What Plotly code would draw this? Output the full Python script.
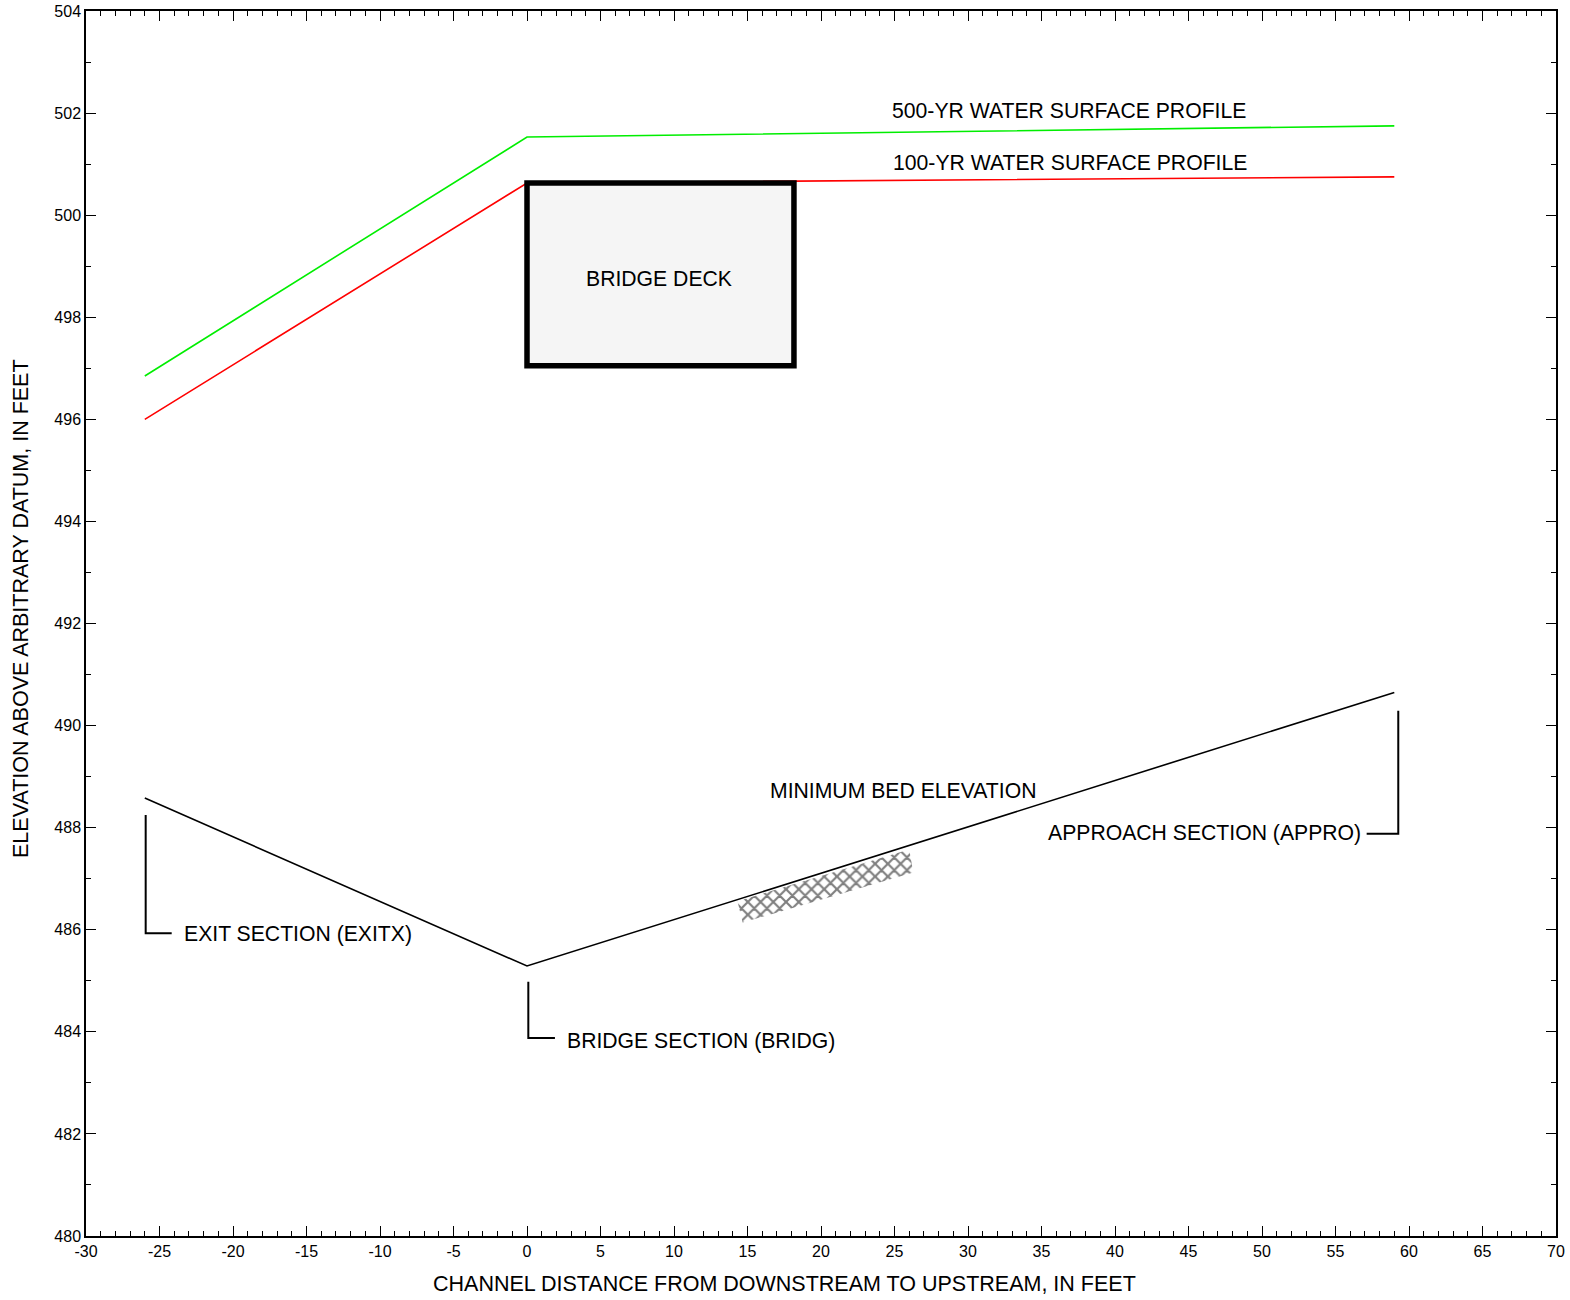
import plotly.graph_objects as go

# ---- data ----
section_x = [-26, 0, 59]
bed_elev = [488.58, 485.29, 490.65]
wse_100 = [496.0, 500.63, 500.75]
wse_500 = [496.85, 501.53, 501.75]

deck_x = [0, 18.16]
deck_y = [497.05, 500.63]

scour_x = [14.32, 26.0, 26.28, 14.67, 14.32]
scour_y = [486.56, 487.57, 487.12, 486.14, 486.56]

x_range = [-30, 70]
y_range = [480, 504]
x_ticks = list(range(-30, 71, 5))
y_ticks = list(range(480, 505, 2))

FONT = "Liberation Sans, Arial, sans-serif"

fig = go.Figure()

# scour hatch
fig.add_trace(go.Scatter(
    x=scour_x, y=scour_y, mode="lines", fill="toself",
    line=dict(width=0, color="rgba(0,0,0,0)"),
    fillcolor="white",
    fillpattern=dict(shape="x", fgcolor="#000000", bgcolor="white", size=9, solidity=0.42),
    hoverinfo="skip", showlegend=False))

fig.add_trace(go.Scatter(x=section_x, y=bed_elev, mode="lines",
                         line=dict(color="black", width=1.6), showlegend=False))
fig.add_trace(go.Scatter(x=section_x, y=wse_500, mode="lines",
                         line=dict(color="#00ee00", width=1.6), showlegend=False))
fig.add_trace(go.Scatter(x=section_x, y=wse_100, mode="lines",
                         line=dict(color="#ff0000", width=1.6), showlegend=False))

# bridge deck
fig.add_shape(type="rect", xref="x", yref="y",
              x0=deck_x[0], x1=deck_x[1], y0=deck_y[0], y1=deck_y[1],
              line=dict(color="black", width=5.5), fillcolor="#f5f5f5", layer="above")

# section brackets
def bracket(xv, ytop, ybot, xend):
    fig.add_shape(type="path", xref="x", yref="y",
                  path=f"M {xv},{ytop} L {xv},{ybot} L {xend},{ybot}",
                  line=dict(color="black", width=2))

bracket(-25.94, 488.25, 485.93, -24.17)
bracket(0.09, 484.98, 483.88, 1.90)
bracket(59.27, 490.29, 487.88, 57.12)

def label(text, x, y, xanchor="center"):
    fig.add_annotation(x=x, y=y, xref="x", yref="y", text=text, showarrow=False,
                       xanchor=xanchor, yanchor="middle",
                       font=dict(family=FONT, size=21.2, color="black"))

label("500-YR WATER SURFACE PROFILE", 36.84, 502.06)
label("100-YR WATER SURFACE PROFILE", 36.96, 501.04)
label("BRIDGE DECK", 8.98, 498.75)
label("MINIMUM BED ELEVATION", 25.58, 488.72)
label("APPROACH SECTION (APPRO)", 56.85, 487.90, "right")
label("EXIT SECTION (EXITX)", -23.47, 485.92, "left")
label("BRIDGE SECTION (BRIDG)", 2.56, 483.82, "left")

# axis titles
fig.add_annotation(xref="paper", yref="paper", x=(784 - 86) / 1470, y=(1236 - 1284) / 1225,
                   text="CHANNEL DISTANCE FROM DOWNSTREAM TO UPSTREAM, IN FEET",
                   showarrow=False, xanchor="center", yanchor="middle",
                   font=dict(family=FONT, size=21.5, color="black"))
fig.add_annotation(xref="paper", yref="paper", x=(21 - 86) / 1470, y=(1236 - 609) / 1225,
                   text="ELEVATION ABOVE ARBITRARY DATUM, IN FEET", textangle=-90,
                   showarrow=False, xanchor="center", yanchor="middle",
                   font=dict(family=FONT, size=21.5, color="black"))

axis_common = dict(showgrid=False, zeroline=False, showline=True, linecolor="black",
                   linewidth=1.5, mirror="ticks", ticks="inside", tickcolor="black",
                   tickwidth=1.2, ticklen=10, automargin=False,
                   tickfont=dict(family=FONT, size=16, color="black"))

fig.update_xaxes(range=x_range, tickvals=x_ticks, ticktext=[str(v) for v in x_ticks],
                 minor=dict(dtick=1, ticks="inside", ticklen=5, tickcolor="black", tickwidth=1.2),
                 **axis_common)
fig.update_yaxes(range=y_range, tickvals=y_ticks, ticktext=[str(v) for v in y_ticks],
                 minor=dict(dtick=1, ticks="inside", ticklen=5, tickcolor="black", tickwidth=1.2),
                 **axis_common)

fig.update_layout(width=1570, height=1300,
                  margin=dict(l=86, r=14, t=11, b=64, autoexpand=False),
                  plot_bgcolor="white", paper_bgcolor="white",
                  showlegend=False, font=dict(family=FONT))

fig.write_html("out.html")
